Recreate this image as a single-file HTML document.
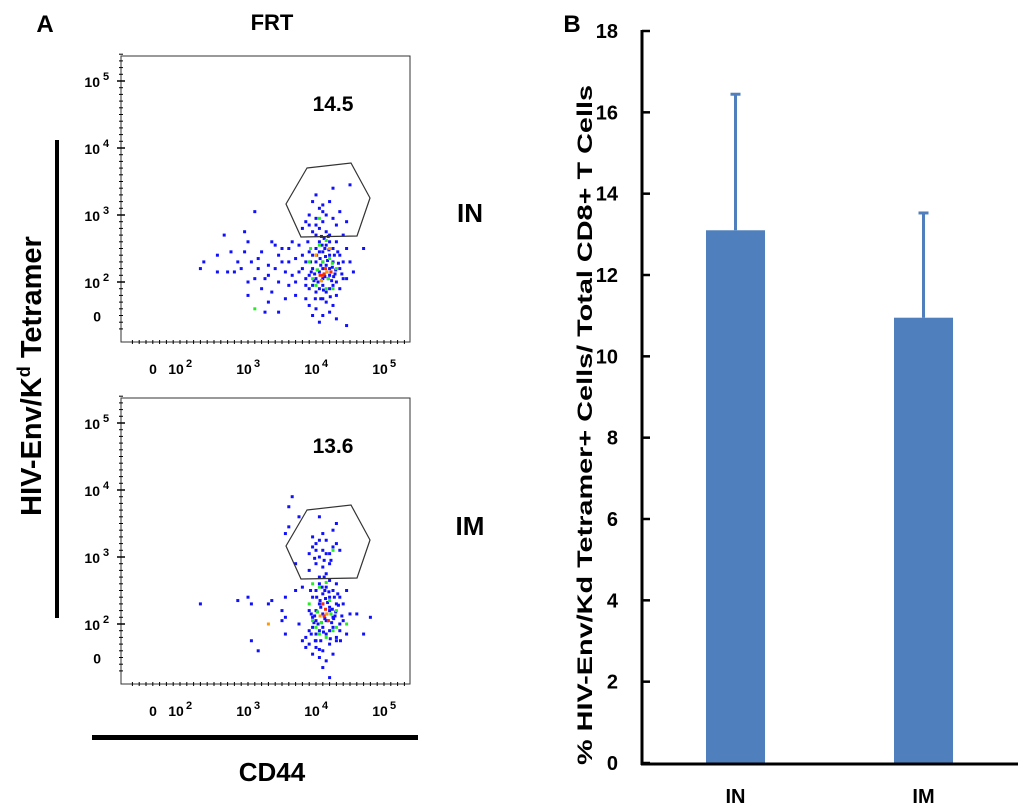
<!DOCTYPE html>
<html><head><meta charset="utf-8"><style>
html,body{margin:0;padding:0;background:#fff;}
svg{display:block;font-family:"Liberation Sans",Arial,sans-serif;font-weight:bold;}
</style></head><body>
<svg id="fig" width="1024" height="811" viewBox="0 0 1024 811" xmlns="http://www.w3.org/2000/svg">
<text x="45" y="32" font-size="24" text-anchor="middle">A</text>
<text x="272" y="30" font-size="22" text-anchor="middle">FRT</text>
<text x="572" y="32" font-size="24" text-anchor="middle">B</text>
<rect x="55" y="140" width="4" height="478" fill="#000"/>
<text transform="translate(41,376) rotate(-90)" font-size="29" text-anchor="middle">HIV-Env/K<tspan font-size="18" dy="-11">d</tspan><tspan dy="11"> Tetramer</tspan></text>
<rect x="92" y="735" width="326" height="5" fill="#000"/>
<text x="272" y="781" font-size="26" text-anchor="middle">CD44</text>
<text x="470" y="222" font-size="26" text-anchor="middle">IN</text>
<text x="470" y="535" font-size="26" text-anchor="middle">IM</text>
<g id="flow1"></g>
<g id="flow2"></g>
<g id="bars"></g>
<text transform="translate(592,425) rotate(-90)" font-size="21" text-anchor="middle" textLength="680" lengthAdjust="spacingAndGlyphs">% HIV-Env/Kd Tetramer+ Cells/ Total CD8+ T Cells</text>
</svg>
<script>
// Bar chart data
const categories = ["IN", "IM"];
const means = [13.1, 10.95];
const errUpper = [16.47, 13.55];
const yTicks = [0, 2, 4, 6, 8, 10, 12, 14, 16, 18];

// Flow plot percentages
const gatePercents = ["14.5", "13.6"];
const xTickLabels = ["10", "10", "10", "10"];
const xTickExps = [2, 3, 4, 5];
const yTickExps = [2, 3, 4, 5];

// Flow points [log10 CD44, log10 tetramer], plot IN
const ptsIN = [
[2.35,2.3],[2.3,2.2],[2.55,2.4],[2.65,2.7],[2.7,2.15],[2.8,2.15],[2.85,2.3],[2.95,2.75],[2.95,2.45],[3.05,2.3],[3.1,2.05],[3.0,2.0],[3.2,1.9],[3.15,2.35],[3.3,2.25],[3.35,2.6],[3.4,2.55],[3.45,2.4],[3.3,2.1],[3.5,2.3],[3.55,2.15],[3.6,2.5],[3.65,2.1],[3.7,2.35],[3.3,1.7],[3.25,1.55],[3.45,1.55],[3.7,2.0],[3.75,2.55],[3.8,2.2],[3.85,1.95],[3.9,2.45],[3.1,3.05],[3.35,1.85],[3.6,1.95],
[2.55,2.15],[2.75,2.45],[2.9,2.2],[3.0,2.6],[3.2,2.45],[3.25,2.05],[3.4,2.2],[3.5,2.5],[3.6,2.3],[3.65,2.6],[3.75,2.15],[3.8,2.4],[3.45,2.0],[3.55,1.75],[3.15,2.2],[3.0,1.8],[3.7,1.8],[3.85,2.3],
[3.8,2.8],[3.85,2.9],[3.9,3.0],[3.95,3.2],[4.0,3.3],[4.05,3.1],[4.1,2.9],[4.15,3.0],[4.2,3.2],[4.25,3.4],[4.3,2.85],[4.05,2.8],[3.95,2.75],[4.35,3.05],[4.45,2.9],[4.5,3.45],[4.1,3.15],[4.0,2.95],[4.15,2.75],[4.2,2.7],[4.1,3.05],[4.0,2.85],[3.9,2.85],[4.25,2.95],
[3.9,2.1],[3.95,2.2],[4.0,2.3],[4.05,2.15],[4.1,2.05],[4.15,2.25],[4.2,2.1],[4.25,2.3],[4.3,2.0],[4.35,2.2],[3.95,2.4],[4.0,2.5],[4.05,2.6],[4.1,2.45],[4.15,2.55],[4.2,2.4],[4.25,2.5],[4.3,2.6],[4.35,2.4],[4.4,2.3],
[3.85,2.05],[3.9,1.9],[3.95,1.95],[4.0,1.85],[4.05,1.9],[4.1,1.95],[4.15,1.85],[4.2,1.9],[4.25,1.95],[4.3,1.8],[4.35,1.9],[4.4,2.05],[4.0,2.05],[4.1,2.2],[4.2,2.2],[4.12,2.12],[4.08,2.02],[4.18,2.05],[4.22,2.15],[4.02,2.18],
[4.06,2.35],[4.14,2.38],[4.24,2.22],[4.28,2.12],[3.98,2.12],[4.1,2.3],[4.16,2.15],[4.05,2.45],[4.2,2.6],[4.12,2.65],[3.92,2.3],[4.32,2.45],[4.45,2.5],[3.88,2.6],[4.0,2.7],
[4.03,2.0],[4.07,2.25],[4.13,2.08],[4.17,2.32],[4.23,2.02],[4.27,2.4],[4.33,2.28],[3.97,2.02],[4.01,2.4],[4.09,2.55],[4.19,2.48],[4.29,2.18],[4.38,2.12],[3.93,2.15],[4.11,1.88],[4.21,1.78],[4.07,1.75],[3.99,1.75],[4.13,2.5],[4.18,2.68],[4.08,2.68],[4.26,2.08],
[3.9,1.65],[4.0,1.6],[4.1,1.5],[4.2,1.55],[4.3,1.45],[4.45,1.35],[4.15,1.7],[3.85,1.75],[4.05,1.4],[4.25,1.65],[3.95,1.5],[4.1,1.75],
[4.7,2.5],[4.5,2.3],[4.45,2.05],[4.4,2.7],[4.55,2.15]
];
const colIN = [[4.12,2.12,"r"],[4.08,2.02,"o"],[4.18,2.05,"g"],[4.22,2.15,"r"],[4.02,2.18,"g"],[4.1,2.3,"g"],[4.16,2.15,"o"],[4.0,1.95,"g"],[4.2,2.35,"g"],[3.95,2.05,"g"],[4.3,2.2,"g"],[4.05,2.55,"g"],[4.15,2.62,"g"],[3.9,2.3,"g"],[4.25,1.9,"g"],[3.1,1.6,"g"],[4.0,2.4,"o"],[4.15,1.9,"g"],[4.06,2.1,"r"],[4.05,2.95,"g"],[4.2,2.5,"o"],[4.14,2.2,"r"],[4.1,2.1,"r"],[4.24,2.28,"g"],[3.92,2.5,"g"]];

// Flow points plot IM
const ptsIM = [
[2.3,2.3],[2.85,2.35],[3.0,2.4],[3.05,2.3],[3.3,2.3],[3.35,2.35],[3.5,2.2],[3.55,2.4],[3.5,2.05],[3.55,1.85],[3.05,1.75],[3.15,1.6],[3.6,3.45],[3.55,3.35],[3.6,3.75],[3.65,3.9],[3.75,3.6],[3.8,2.55],[3.7,2.5],[3.7,2.9],[3.55,2.1],[3.75,2.0],
[3.9,3.05],[3.95,3.15],[4.0,3.2],[4.05,3.0],[4.1,3.1],[4.15,3.25],[4.2,3.05],[4.25,3.4],[4.3,3.2],[4.0,2.9],[4.1,2.85],[4.2,2.9],[3.95,3.3],[4.35,3.1],[4.05,3.6],[4.3,3.5],[4.15,2.75],[4.0,3.1],[4.1,3.35],[4.22,2.95],[3.9,2.8],[4.05,3.25],[4.15,3.05],[4.25,3.15],[3.98,2.98],[4.12,2.95],
[3.95,2.1],[4.0,2.2],[4.05,2.3],[4.1,2.15],[4.15,2.05],[4.2,2.25],[4.25,2.1],[4.3,2.3],[4.35,2.0],[3.9,2.2],[3.95,2.4],[4.0,2.5],[4.05,2.6],[4.1,2.45],[4.15,2.55],[4.2,2.4],[4.25,2.5],[4.3,2.6],[4.35,2.4],[4.4,2.3],
[3.9,1.9],[3.95,1.95],[4.0,1.85],[4.05,1.9],[4.1,1.95],[4.15,1.85],[4.2,1.9],[4.25,1.95],[4.3,1.8],[4.35,1.9],[4.4,2.05],[4.0,2.05],[4.1,2.3],[4.2,2.2],[4.12,2.12],[4.08,2.02],[4.18,2.05],[4.22,2.15],[4.02,2.18],
[4.06,2.35],[4.14,2.38],[4.24,2.22],[4.28,2.12],[3.98,2.12],[4.16,2.15],[4.05,2.7],[4.2,2.65],[4.12,2.7],[3.92,2.5],[4.32,2.45],[4.45,2.5],[4.5,2.15],[4.6,2.15],
[4.03,2.0],[4.07,2.25],[4.13,2.08],[4.17,2.32],[4.23,2.02],[4.27,2.4],[4.33,2.28],[3.97,2.02],[4.01,2.4],[4.09,2.55],[4.19,2.48],[4.29,2.18],[4.38,2.12],[3.93,2.15],[4.11,1.88],[4.21,1.78],[4.07,1.75],[3.99,1.75],[4.13,2.5],[4.26,2.08],[3.93,1.85],[4.36,1.75],
[3.8,1.75],[3.9,1.7],[4.0,1.65],[4.1,1.6],[4.2,1.7],[4.3,1.75],[3.85,1.8],[4.05,1.5],[4.15,1.45],[4.25,1.55],[4.0,1.75],[4.1,1.35],[4.2,1.2],[3.95,1.55],[3.85,1.65],[4.05,1.62],
[4.8,2.1],[4.7,1.85],[4.45,1.85]
];
const colIM = [[4.12,2.12,"r"],[4.08,2.02,"g"],[4.18,2.05,"r"],[4.22,2.15,"g"],[4.02,2.18,"g"],[4.1,2.3,"r"],[4.16,2.15,"o"],[4.0,1.95,"g"],[4.2,2.35,"g"],[3.95,2.05,"g"],[4.3,2.2,"g"],[4.05,2.55,"g"],[4.15,2.62,"g"],[3.9,2.3,"g"],[4.25,1.9,"g"],[4.05,1.85,"g"],[4.15,1.8,"g"],[3.95,2.6,"g"],[4.3,1.95,"g"],[3.3,2.0,"o"],[4.25,3.1,"g"],[4.45,2.0,"g"],[4.14,2.22,"r"],[4.06,2.12,"o"]];

const NS = "http://www.w3.org/2000/svg";
function mk(tag, attrs, parent){const e=document.createElementNS(NS,tag);for(const k in attrs)e.setAttribute(k,attrs[k]);parent.appendChild(e);return e;}
const colors = {r:"#ff2a00", o:"#ff9a00", g:"#22ee22"};

function drawFlow(g, top, pts, cols, pct){
  const L=121, R=410, T=top, B=top+286;
  const xs = v => 180 + (v-2)*68;
  const ys = v => (top+226) - (v-2)*67;
  const box = mk("rect",{x:L,y:T,width:R-L,height:B-T,fill:"none",stroke:"#333","stroke-width":1},g);
  
  
  for(let d=1.3; d<5.4; d+=0.1){
    const t=mk("line",{x1:L-2,x2:L+2,y1:ys(d),y2:ys(d),stroke:"#000","stroke-width":1},g);
    
    
  }
  for(let d=1.3; d<5.35; d+=0.1){
    const t=mk("line",{x1:xs(d),x2:xs(d),y1:B-2,y2:B+2,stroke:"#000","stroke-width":1},g);
    
    
  }
  yTickExps.forEach(e=>{
    const t=mk("line",{x1:L-4,x2:L+4,y1:ys(e),y2:ys(e),stroke:"#000","stroke-width":1.5},g);
    
    
    const tx=mk("text",{x:L-21,y:ys(e)+6,"font-size":14,"text-anchor":"end"},g);
    tx.textContent="10";
    
    
    const sp=mk("text",{x:L-18,y:ys(e)-1,"font-size":11},g);
    sp.textContent=String(e);
    
    
  });
  const z=mk("text",{x:L-20,y:ys(1.5)+6,"font-size":14,"text-anchor":"end"},g);
  z.textContent="0";
  
  
  xTickExps.forEach((e,i)=>{
    const tx=mk("text",{x:xs(e)-4,y:B+32,"font-size":14,"text-anchor":"middle"},g);
    tx.textContent=xTickLabels[i];
    
    
    const sp=mk("text",{x:xs(e)+6,y:B+25,"font-size":11},g);
    sp.textContent=String(e);
    
    
  });
  const xz=mk("text",{x:153,y:B+32,"font-size":14,"text-anchor":"middle"},g);
  xz.textContent="0";
  
  
  pts.forEach(p=>{
    const r=mk("rect",{x:xs(p[0])-1.5,y:ys(p[1])-1.5,width:3,height:3,fill:"#1010ff"},g);
    
    
  });
  cols.forEach(p=>{
    const r=mk("rect",{x:xs(p[0])-1.5,y:ys(p[1])-1.5,width:3,height:3,fill:colors[p[2]]},g);
    
    
  });
  const hex=[[307,top+112],[351,top+107],[370,top+142],[357,top+180],[301,top+181],[286,top+148]];
  const poly=mk("polygon",{points:hex.map(p=>p.join(",")).join(" "),fill:"none",stroke:"#333","stroke-width":1.2},g);
  
  
  const pt=mk("text",{x:333,y:top+55,"font-size":21,"text-anchor":"middle"},g);
  pt.textContent=pct;
  
  
}
drawFlow(document.getElementById("flow1"), 56, ptsIN, colIN, gatePercents[0]);
drawFlow(document.getElementById("flow2"), 398, ptsIM, colIM, gatePercents[1]);

(function(){
  const g=document.getElementById("bars");
  const X0=642, Y0=763, X1=1018, ppu=(763-31)/18;
  const y = v => Y0 - v*ppu;
  const barCenters = [735.5, 923.5];
  const bw = 59;
  categories.forEach((c,i)=>{
    const b=mk("rect",{x:barCenters[i]-bw/2,y:y(means[i]),width:bw,height:Y0-y(means[i]),fill:"#4f80bd"},g);
    
    
    const e=mk("line",{x1:barCenters[i],x2:barCenters[i],y1:y(means[i]),y2:y(errUpper[i]),stroke:"#4f80bd","stroke-width":3},g);
    
    
    const cap=mk("line",{x1:barCenters[i]-5,x2:barCenters[i]+5,y1:y(errUpper[i])+1,y2:y(errUpper[i])+1,stroke:"#4f80bd","stroke-width":3},g);
    
    
    const t=mk("text",{x:barCenters[i],y:803,"font-size":20,"text-anchor":"middle"},g);
    t.textContent=c;
    
    
  });
  const ax=mk("line",{x1:X0,x2:X0,y1:y(18)-1,y2:Y0+2,stroke:"#000","stroke-width":3},g);
  
  
  const xa=mk("line",{x1:X0-1,x2:X1,y1:Y0+1,y2:Y0+1,stroke:"#000","stroke-width":3},g);
  
  
  yTicks.forEach(v=>{
    const t=mk("line",{x1:X0,x2:X0+8,y1:y(v),y2:y(v),stroke:"#000","stroke-width":2.5},g);
    
    
    const l=mk("text",{x:618,y:y(v)+7,"font-size":20,"text-anchor":"end"},g);
    l.textContent=String(v);
    
    
  });
})();
</script>
</body></html>
